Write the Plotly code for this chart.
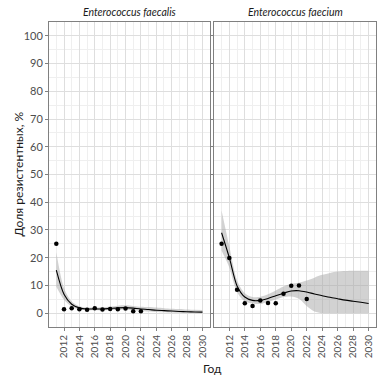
import plotly.graph_objects as go

# ---- data ----
species = ["Enterococcus faecalis", "Enterococcus faecium"]

obs_years = [2011, 2012, 2013, 2014, 2015, 2016, 2017, 2018, 2019, 2020, 2021, 2022]
faecalis_obs = [25.0, 1.4, 1.8, 1.4, 1.2, 1.8, 1.3, 1.5, 1.4, 1.7, 0.7, 0.7]
faecium_obs = [25.0, 19.9, 8.4, 3.6, 2.6, 4.6, 3.7, 3.6, 7.0, 9.9, 10.0, 5.1]

fit_years = list(range(2011, 2031))
faecalis_fit = [15.5, 6.8, 3.2, 1.9, 1.5, 1.5, 1.5, 1.7, 1.9, 2.0, 1.8, 1.5, 1.3, 1.05, 0.9, 0.75, 0.6, 0.5, 0.4, 0.35]
faecalis_lo = [9.5, 4.8, 2.3, 1.3, 1.0, 1.0, 1.0, 1.1, 1.2, 1.2, 1.0, 0.8, 0.6, 0.4, 0.3, 0.2, 0.1, 0.05, 0.0, -0.05]
faecalis_hi = [22.0, 9.0, 4.2, 2.5, 2.0, 2.0, 2.1, 2.4, 2.7, 2.8, 2.6, 2.3, 2.2, 2.0, 1.8, 1.6, 1.5, 1.3, 1.2, 1.1]

faecium_fit = [29.0, 20.0, 9.8, 5.8, 4.6, 4.6, 5.3, 6.3, 7.2, 8.0, 8.1, 7.6, 6.9, 6.3, 5.7, 5.2, 4.7, 4.3, 3.9, 3.5]
faecium_lo = [22.5, 16.5, 7.5, 4.2, 3.5, 3.3, 4.0, 4.9, 5.8, 6.0, 5.2, 2.6, 0.6, 0.0, 0.0, 0.0, 0.0, 0.0, 0.0, 0.0]
faecium_hi = [37.0, 24.0, 11.8, 7.2, 5.8, 5.9, 6.8, 8.2, 9.6, 10.6, 11.0, 11.8, 12.8, 13.8, 14.5, 15.0, 15.2, 15.3, 15.3, 15.3]

x_tickvals = list(range(2012, 2031, 2))
y_tickvals = list(range(0, 101, 10))

FONT = "Lato, 'Open Sans', sans-serif"

fig = go.Figure()

panels = [
    ("x", "y", faecalis_obs, faecalis_fit, faecalis_lo, faecalis_hi),
    ("x2", "y2", faecium_obs, faecium_fit, faecium_lo, faecium_hi),
]
for xa, ya, obs, fit, lo, hi in panels:
    fig.add_trace(go.Scatter(x=fit_years, y=lo, xaxis=xa, yaxis=ya, mode="lines",
                             line=dict(width=0, shape="spline", smoothing=0.8),
                             hoverinfo="skip", showlegend=False))
    fig.add_trace(go.Scatter(x=fit_years, y=hi, xaxis=xa, yaxis=ya, mode="lines",
                             line=dict(width=0, shape="spline", smoothing=0.8),
                             fill="tonexty", fillcolor="rgba(165,165,165,0.5)",
                             hoverinfo="skip", showlegend=False))
    fig.add_trace(go.Scatter(x=fit_years, y=fit, xaxis=xa, yaxis=ya, mode="lines",
                             line=dict(color="black", width=1.1, shape="spline", smoothing=0.8),
                             showlegend=False))
    fig.add_trace(go.Scatter(x=obs_years, y=obs, xaxis=xa, yaxis=ya, mode="markers",
                             marker=dict(color="black", size=4.5),
                             showlegend=False))

xcommon = dict(range=[2010.05, 2030.95], tickvals=x_tickvals, ticktext=[str(v) for v in x_tickvals],
               tickangle=-90, tickfont=dict(size=10, color="#4d4d4d", family=FONT),
               ticks="outside", ticklen=3, tickcolor="#808080",
               showgrid=True, gridcolor="#dedede", gridwidth=1,
               minor=dict(dtick=1, tick0=2011, showgrid=True, gridcolor="#efefef", gridwidth=0.7),
               showline=True, linecolor="#808080", linewidth=1, mirror=True, zeroline=False)
ycommon = dict(range=[-5, 105], tickvals=y_tickvals,
               tickfont=dict(size=11, color="#4d4d4d", family=FONT),
               ticks="outside", ticklen=3, tickcolor="#808080",
               showgrid=True, gridcolor="#dedede", gridwidth=1,
               minor=dict(dtick=5, tick0=5, showgrid=True, gridcolor="#efefef", gridwidth=0.7),
               showline=True, linecolor="#808080", linewidth=1, mirror=True, zeroline=False)

fig.update_layout(
    width=389, height=379,
    margin=dict(l=49, r=13, t=22, b=52),
    paper_bgcolor="white", plot_bgcolor="white",
    font=dict(family=FONT, color="#1a1a1a"),
    xaxis=dict(domain=[0, 0.4916], anchor="y", **xcommon),
    xaxis2=dict(domain=[0.5053, 1], anchor="y2", **xcommon),
    yaxis=dict(domain=[0, 1], anchor="x", **ycommon),
    yaxis2=dict(domain=[0, 1], anchor="x2", showticklabels=False, **{k: v for k, v in ycommon.items() if k != "tickfont"}),
)

for i, name in enumerate(species):
    xd = ["x domain", "x2 domain"][i]
    fig.add_annotation(text=f"<i>{name}</i>", xref=xd, yref="paper", x=0.5, y=1.0,
                       yanchor="bottom", yshift=2, showarrow=False,
                       font=dict(size=10.5, color="#1a1a1a", family=FONT))

fig.add_annotation(text="Доля резистентных, %", xref="paper", yref="paper",
                   x=0, y=0.5, xshift=-31, textangle=-90, showarrow=False,
                   xanchor="center", yanchor="middle",
                   font=dict(size=12, color="#1a1a1a", family=FONT))
fig.add_annotation(text="Год", xref="paper", yref="paper", x=0.5, y=0,
                   yshift=-41, yanchor="middle", showarrow=False,
                   font=dict(size=12, color="#1a1a1a", family=FONT))

fig.write_html("out.html", config={"displayModeBar": False},
               post_script="document.body.style.margin='0';document.body.style.overflow='hidden';")
